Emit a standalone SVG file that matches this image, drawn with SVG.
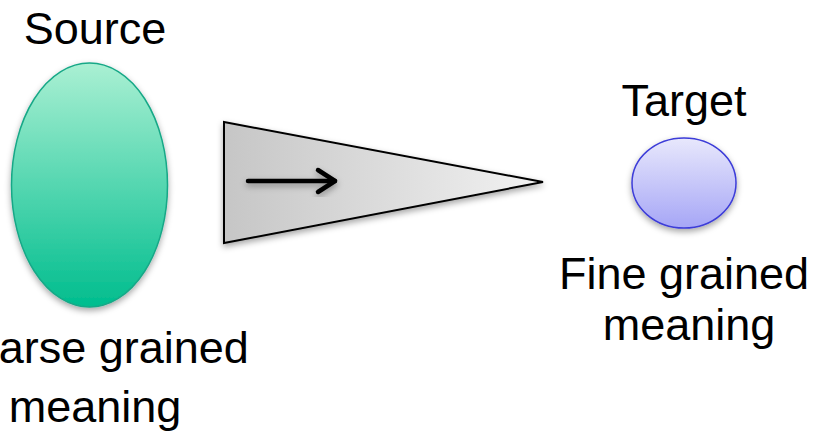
<svg xmlns="http://www.w3.org/2000/svg" width="821" height="438" viewBox="0 0 821 438">
  <defs>
    <linearGradient id="gSrc" x1="0" y1="0" x2="0" y2="1">
      <stop offset="0" stop-color="#aaf0d3"/>
      <stop offset="1" stop-color="#00bd8e"/>
    </linearGradient>
    <linearGradient id="gTgt" x1="0" y1="0" x2="0" y2="1">
      <stop offset="0" stop-color="#e8e8fc"/>
      <stop offset="1" stop-color="#a6a6f6"/>
    </linearGradient>
    <linearGradient id="gTri" x1="0" y1="0" x2="1" y2="0">
      <stop offset="0" stop-color="#c6c6c6"/>
      <stop offset="1" stop-color="#f2f2f2"/>
    </linearGradient>
    <filter id="sh" x="-20%" y="-20%" width="140%" height="140%">
      <feDropShadow dx="0" dy="3" stdDeviation="3" flood-color="#000" flood-opacity="0.35"/>
    </filter>
  </defs>
  <style>
    text { font-family: "Liberation Sans", Arial, sans-serif; font-size: 45px; fill: #000; text-anchor: middle; }
  </style>
  <rect width="821" height="438" fill="#fff"/>
  <g id="source">
    <ellipse cx="89.5" cy="185" rx="78" ry="122" fill="url(#gSrc)" stroke="#17a887" stroke-width="1.5" filter="url(#sh)"/>
    <text x="95" y="44">Source</text>
    <text x="95" y="363">Coarse grained</text>
    <text x="95" y="422">meaning</text>
  </g>
  <g id="transform">
    <polygon points="224,122 543,182 224,243" fill="url(#gTri)" stroke="#000" stroke-width="2" stroke-linejoin="miter" filter="url(#sh)"/>
  </g>
  <g id="target">
    <ellipse cx="684" cy="183" rx="52" ry="45" fill="url(#gTgt)" stroke="#3c3cd8" stroke-width="1.5" filter="url(#sh)"/>
    <text x="684" y="116">Target</text>
    <text x="684" y="289">Fine grained</text>
    <text x="689" y="340">meaning</text>
  </g>
  <g id="connectors">
    <g filter="url(#sh)" stroke="#000" stroke-width="4.5" stroke-linecap="round" stroke-linejoin="round" fill="none">
      <line x1="248" y1="181" x2="335" y2="181"/>
      <polyline points="318,170 335,181 318,192"/>
    </g>
  </g>
</svg>
